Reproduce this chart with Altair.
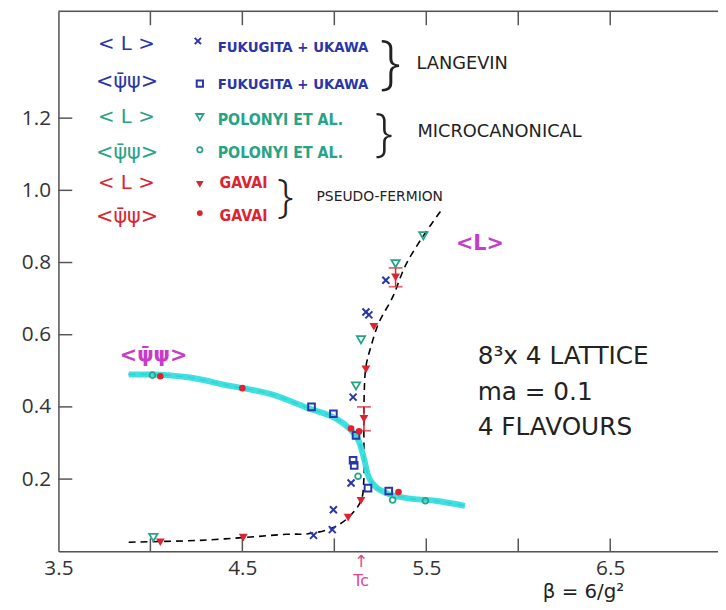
import altair as alt
import pandas as pd

# ---------------- data ----------------
fuk_L_beta = [4.887, 4.989, 4.995, 5.091, 5.102, 5.172, 5.188, 5.280]
fuk_L_val = [0.044, 0.060, 0.115, 0.189, 0.427, 0.663, 0.655, 0.751]
fuk_P_beta = [4.876, 4.995, 5.118, 5.102, 5.108, 5.183, 5.296]
fuk_P_val = [0.400, 0.381, 0.321, 0.252, 0.238, 0.175, 0.167]
pol_L_beta = [4.016, 5.118, 5.145, 5.333, 5.484]
pol_L_val = [0.038, 0.458, 0.586, 0.797, 0.874]
pol_P_beta = [4.011, 5.129, 5.317, 5.495]
pol_P_val = [0.488, 0.208, 0.142, 0.140]
gav_L_beta = [4.054, 4.505, 5.075, 5.145, 5.161, 5.172, 5.215, 5.333]
gav_L_val = [0.025, 0.038, 0.093, 0.140, 0.367, 0.504, 0.622, 0.759]
gav_L_err = [0, 0, 0, 0, 0.033, 0, 0, 0.026]
gav_P_beta = [4.054, 4.500, 5.091, 5.134, 5.349]
gav_P_val = [0.485, 0.452, 0.340, 0.332, 0.164]

curveL_beta = [3.882, 4.043, 4.258, 4.505, 4.742, 4.866, 4.995, 5.075, 5.145, 5.161,
               5.161, 5.161, 5.172, 5.199, 5.242, 5.317, 5.387, 5.484, 5.586]
curveL_val = [0.025, 0.027, 0.030, 0.038, 0.047, 0.049, 0.066, 0.093, 0.140, 0.203,
              0.285, 0.403, 0.512, 0.567, 0.633, 0.704, 0.792, 0.874, 0.948]
curveP_beta = [3.882, 4.005, 4.204, 4.435, 4.651, 4.866, 5.011, 5.081, 5.134, 5.161,
               5.183, 5.215, 5.280, 5.387, 5.548, 5.710]
curveP_val = [0.490, 0.490, 0.482, 0.458, 0.436, 0.395, 0.367, 0.340, 0.304, 0.258,
              0.211, 0.184, 0.162, 0.148, 0.140, 0.126]

x_label_values = [3.5, 4.5, 5.5, 6.5]
x_tick_values = [4.0, 4.5, 5.0, 5.5, 6.0, 6.5]
y_tick_values = [0.2, 0.4, 0.6, 0.8, 1.0, 1.2]

# ---------------- layout / style ----------------
W, H = 667, 546
X0, Y0 = 59, 8
BLUE = "#2a36a8"
TEAL = "#27a386"
RED = "#dc2430"
MAG = "#c63cc8"
CYAN = "#36dede"
PINK = "#e2458a"
AXC = "#555555"
HAND = "DejaVu Sans Condensed, Liberation Sans Narrow, sans-serif"

xs = alt.Scale(domain=[3.5, 3.5 + W / 186.0], nice=False, zero=False)
ys = alt.Scale(domain=[0, H / 365.0], nice=False, zero=False)
xax = alt.Axis(values=x_label_values, format=".1f", ticks=False, grid=False, title=None,
               domainColor=AXC, domainWidth=1.5, labelFontSize=21, labelColor="#333",
               labelFont="Open Sans", labelPadding=7, labelFlush=False)
yax = alt.Axis(values=y_tick_values, format=".1f", ticks=False, grid=False, title=None,
               domainColor=AXC, domainWidth=1.5, labelFontSize=21, labelColor="#333",
               labelFont="Open Sans", labelPadding=8)


def X(f="beta"):
    return alt.X(f + ":Q", scale=xs, axis=xax)


def Y(f="val"):
    return alt.Y(f + ":Q", scale=ys, axis=yax)


def df(b, v):
    return pd.DataFrame({"beta": b, "val": v, "ord": list(range(len(b)))})


layers = []

# axis ticks (inward)
layers.append(alt.Chart(pd.DataFrame({"beta": x_tick_values})).mark_rule(
    color=AXC, strokeWidth=1.5).encode(x=X(), y=alt.value(H), y2=alt.value(H - 13)))
layers.append(alt.Chart(pd.DataFrame({"beta": x_tick_values})).mark_rule(
    color=AXC, strokeWidth=1.5).encode(x=X(), y=alt.value(0), y2=alt.value(14)))
layers.append(alt.Chart(pd.DataFrame({"val": y_tick_values})).mark_rule(
    color=AXC, strokeWidth=1.5).encode(y=Y(), x=alt.value(0), x2=alt.value(14)))
layers.append(alt.Chart(pd.DataFrame({"a": [0]})).mark_rule(
    color=AXC, strokeWidth=1.5).encode(x=alt.value(0), x2=alt.value(W), y=alt.value(0)))

# curves
layers.append(alt.Chart(df(curveL_beta, curveL_val)).mark_line(
    color="black", strokeWidth=1.6, strokeDash=[7, 5], interpolate="catmull-rom").encode(
    x=X(), y=Y(), order="ord:Q"))
layers.append(alt.Chart(df(curveP_beta, curveP_val)).mark_line(
    color="black", strokeWidth=1.6, strokeDash=[7, 5], interpolate="monotone").encode(
    x=X(), y=Y(), order="ord:Q"))
layers.append(alt.Chart(df(curveP_beta, curveP_val)).mark_line(
    color=CYAN, strokeWidth=6, interpolate="monotone", opacity=0.95).encode(
    x=X(), y=Y(), order="ord:Q"))

# error bars
eb = pd.DataFrame({"beta": gav_L_beta, "val": gav_L_val, "err": gav_L_err})
eb = eb[eb.err > 0].copy()
eb["lo"] = eb.val - eb.err
eb["hi"] = eb.val + eb.err
layers.append(alt.Chart(eb).mark_rule(color=RED, strokeWidth=1.5).encode(
    x=X(), y=Y("lo"), y2="hi:Q"))
caps = pd.DataFrame({"beta": list(eb.beta) * 2, "val": list(eb.lo) + list(eb.hi)})
layers.append(alt.Chart(caps).mark_tick(color=RED, orient="horizontal", size=14,
                                        thickness=1.8).encode(x=X(), y=Y()))

XSHAPE = "M-1,-1L1,1M-1,1L1,-1"
# markers
layers.append(alt.Chart(df(fuk_L_beta, fuk_L_val)).mark_point(
    shape=XSHAPE, size=50, strokeWidth=2, color=BLUE, filled=False, opacity=1).encode(x=X(), y=Y()))
layers.append(alt.Chart(df(fuk_P_beta, fuk_P_val)).mark_point(
    shape="square", size=45, strokeWidth=2, color=BLUE, filled=False, opacity=1).encode(x=X(), y=Y()))
layers.append(alt.Chart(df(pol_L_beta, pol_L_val)).mark_point(
    shape="triangle-down", size=70, strokeWidth=1.8, color=TEAL, filled=False, opacity=1).encode(x=X(), y=Y()))
layers.append(alt.Chart(df(pol_P_beta, pol_P_val)).mark_point(
    shape="circle", size=35, strokeWidth=1.8, color=TEAL, filled=False, opacity=1).encode(x=X(), y=Y()))
layers.append(alt.Chart(df(gav_L_beta, gav_L_val)).mark_point(
    shape="triangle-down", size=80, color=RED, filled=True, opacity=1).encode(x=X(), y=Y()))
layers.append(alt.Chart(df(gav_P_beta, gav_P_val)).mark_point(
    shape="circle", size=45, color=RED, filled=True, opacity=1).encode(x=X(), y=Y()))


def txt(s, x, y, size, color, font=HAND, weight="normal", align="left", baseline="middle", angle=0):
    return alt.Chart(pd.DataFrame({"a": [0]})).mark_text(
        text=s, fontSize=size, color=color, font=font, fontWeight=weight,
        align=align, baseline=baseline, angle=angle).encode(
        x=alt.value(x - X0), y=alt.value(y - Y0))


def sym(shape, x, y, color, filled, size=45, sw=2):
    return alt.Chart(pd.DataFrame({"a": [0]})).mark_point(
        shape=shape, size=size, color=color, filled=filled, strokeWidth=sw, opacity=1).encode(
        x=alt.value(x - X0), y=alt.value(y - Y0))


PSI = "<ψ̄ψ>"
BR = "Open Sans"
# legend block
layers += [
    txt("< L >", 99, 41, 20, BLUE, font="DejaVu Sans"),
    sym(XSHAPE, 200, 38, BLUE, False, 40),
    txt("FUKUGITA + UKAWA", 220, 44, 15, BLUE, weight="bold"),
    txt(PSI, 97, 80, 21, BLUE, font="DejaVu Sans"),
    sym("square", 202, 81, BLUE, False, 40),
    txt("FUKUGITA + UKAWA", 220, 82, 15, BLUE, weight="bold"),
    txt("}", 384, 61, 60, "#222", font=BR, weight=300),
    txt("LANGEVIN", 421, 61, 18, "#222", font="DejaVu Sans"),
    txt("< L >", 99, 115, 20, TEAL, font="DejaVu Sans"),
    sym("triangle-down", 202, 115, TEAL, False, 55, 1.8),
    txt("POLONYI ET AL.", 220, 118, 16, TEAL, weight="bold"),
    txt(PSI, 97, 151, 21, TEAL, font="DejaVu Sans"),
    sym("circle", 202, 148, TEAL, False, 28, 1.8),
    txt("POLONYI ET AL.", 220, 151, 16, TEAL, weight="bold"),
    txt("}", 379, 132, 52, "#222", font=BR, weight=300),
    txt("MICROCANONICAL", 422, 130, 18, "#222", font="DejaVu Sans"),
    txt("< L >", 99, 182, 20, RED, font="DejaVu Sans"),
    sym("triangle-down", 202, 183, RED, True, 60),
    txt("GAVAI", 222, 182, 16, RED, weight="bold"),
    txt(PSI, 97, 216, 21, RED, font="DejaVu Sans"),
    sym("circle", 202, 212, RED, True, 35),
    txt("GAVAI", 222, 215, 16, RED, weight="bold"),
    txt("}", 280, 197, 47, "#222", font=BR, weight=300),
    txt("PSEUDO-FERMION", 320, 196, 14, "#222", font="DejaVu Sans"),
]

# curve labels and info
layers += [
    txt(PSI, 121, 357, 21, MAG, font="DejaVu Sans", weight="bold"),
    txt("<L>", 461, 243, 21, MAG, font="DejaVu Sans", weight="bold"),
    txt("8³x 4 LATTICE", 483, 357, 25, "#222", font="DejaVu Sans"),
    txt("ma = 0.1", 483, 393, 25, "#222", font="DejaVu Sans"),
    txt("4 FLAVOURS", 483, 428, 25, "#222", font="DejaVu Sans"),
    txt("↑", 365, 565, 17, PINK, font="DejaVu Sans", align="center"),
    txt("Tc", 365, 584, 16, PINK, font="DejaVu Sans", align="center"),
    txt("β = 6/g²", 590, 595, 20, "#222", font="DejaVu Sans", align="center"),
]

chart = alt.layer(*layers).properties(
    width=W, height=H,
    autosize=alt.AutoSizeParams(type="none"),
    padding={"left": 51, "top": 0, "right": 0, "bottom": 56},
).configure_view(stroke=None).configure(background="white")

chart.save("out.html", embed_options={"renderer": "svg", "actions": False})
